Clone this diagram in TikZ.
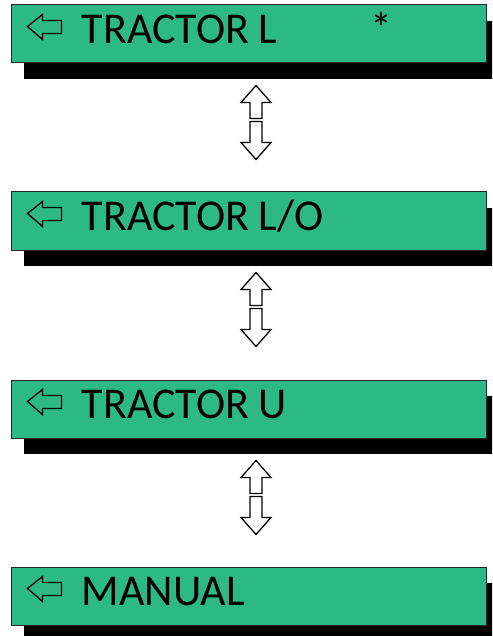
\documentclass[tikz,border=0pt]{standalone}
\usepackage{fontspec}
\setmainfont{Carlito}
\usetikzlibrary{calc,shadows}
\definecolor{boxgreen}{RGB}{44,184,135}
\tikzset{
  menubox/.style={draw=black!85, line width=1pt, fill=boxgreen, rectangle,
    minimum width=475pt, minimum height=58pt, inner sep=0pt,
    general shadow={fill=black, shadow xshift=13pt, shadow yshift=-16pt}},
  menutext/.style={anchor=base west, inner sep=0pt, font=\fontsize{44}{48}\selectfont},
  hollowarrow/.style={draw=black, line width=1.3pt, fill=white, line join=miter},
  backarrow/.style={draw=black, line width=1.3pt, line join=miter},
}
\begin{document}
\begin{tikzpicture}[x=1pt,y=-1pt]
\clip (0,0) rectangle (492,636);
\fill[white] (0,0) rectangle (492,636);
\foreach \name/\top/\label in {b1/5/{TRACTOR L}, b2/192/{TRACTOR L/O}, b3/380/{TRACTOR U}, b4/567/{MANUAL}}{
  \node[menubox] (\name) at (248.5,\top+29) {};
  \node[menutext] (\name t) at ($(\name.north west)+(71,39)$) {\label};
  \draw[backarrow] ($(\name.north west)+(17,22)$) -- ++(15,-12) -- ++(0,6) -- ++(19,0)
     -- ++(0,13) -- ++(-19,0) -- ++(0,6) -- cycle;
}
\node[menutext] (star) at ($(b1.north west)+(360,39)$) {*};
\foreach \a/\b in {b1/b2, b2/b3, b3/b4}{
  \coordinate (c) at ($(\a.south)+(7.5,0)$);
  \draw[hollowarrow] ($(c)+(0,22)$) -- ++(15,17) -- ++(-9,0) -- ++(0,16) -- ++(-12,0)
     -- ++(0,-16) -- ++(-9,0) -- cycle;
  \draw[hollowarrow] ($(c)+(0,96)$) -- ++(15,-17) -- ++(-9,0) -- ++(0,-21) -- ++(-12,0)
     -- ++(0,21) -- ++(-9,0) -- cycle;
}
\end{tikzpicture}
\end{document}
